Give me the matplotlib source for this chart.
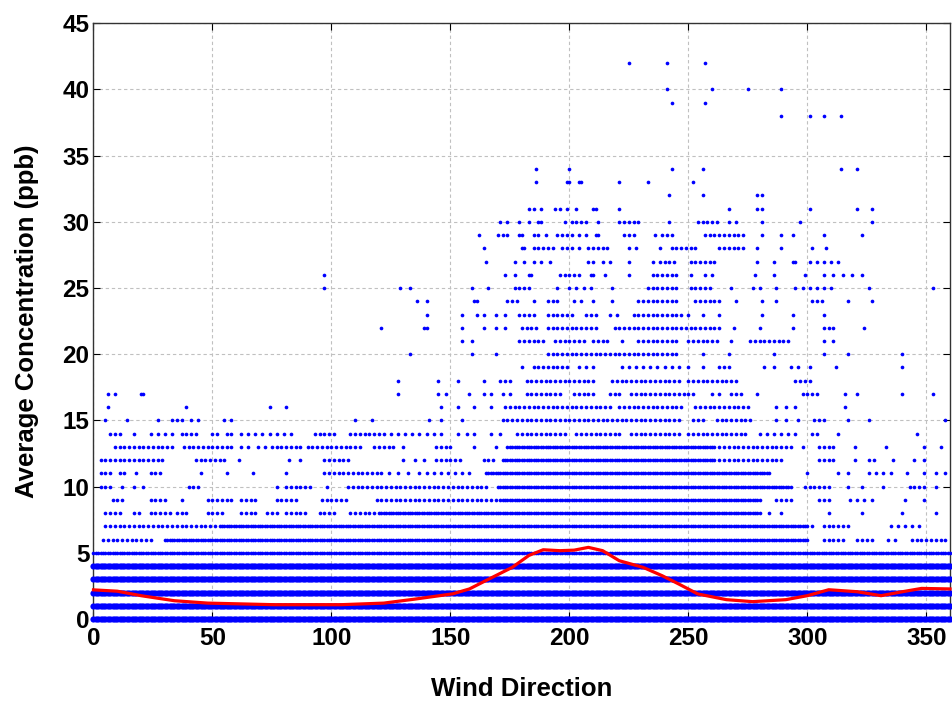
import numpy as np
import matplotlib.pyplot as plt

# wind direction runs per concentration level: int = single point, (a, b[, step]) = run
band_levels = [0, 1, 2, 3, 4]
full_run = [(0, 360)]

dirs_05 = [(0, 360)]
dirs_06 = [(4, 24, 2), (30, 300), (307, 315, 2), (321, 327, 2), 334, 337, (344, 358, 2)]
dirs_07 = [(5, 52, 2), (53, 300), 302, (307, 317, 2), (335, 348, 3)]
dirs_08 = [(5, 12, 2), (17, 19, 2), (24, 33, 2), (35, 40, 2), (48, 54, 2), (62, 69, 2),
           (73, 77, 2), (81, 90, 2), (95, 102, 2), (108, 119, 2), (120, 280), 284, 289,
           309, 323, 340, 354]
dirs_09 = [(8, 12, 2), (24, 31, 2), 37, (48, 58, 2), (62, 69, 2), (77, 86, 2), (96, 106, 2),
           (119, 123, 2), (125, 170, 2), (171, 280), (287, 293, 2), (305, 310, 2),
           (318, 327, 3), 341, 349]
dirs_10 = [(3, 8, 2), 12, 17, 21, (40, 45, 2), 77, (81, 92, 2), 98, (107, 123, 2),
           (125, 165, 2), (170, 293), (299, 310, 2), 317, 323, 332, (343, 349, 2), 354]
dirs_11 = [(3, 8, 2), (11, 13, 2), 18, (24, 29, 2), 45, 56, 67, 81, (97, 122, 2),
           (124, 135, 4), (137, 160, 3), (165, 284), 300, 313, 317, (326, 335, 3), 342,
           349, 354, 358]
dirs_12 = [(3, 29, 2), (43, 56, 2), 61, 82, 87, (97, 107, 2), 130, 135, 139, (144, 154, 2),
           (164, 168, 2), (172, 260), (261, 289, 2), (305, 311, 2), 320, (326, 328, 2), 336,
           345, 349]
dirs_13 = [(9, 33, 2), (38, 58, 2), 62, 65, 69, 72, (75, 87, 2), (90, 112, 2), (118, 127, 2),
           130, (144, 150, 2), 160, 169, (174, 260), (261, 293, 2), 298, (305, 311, 2), 320,
           333, 349, 356]
dirs_14 = [(7, 11, 2), 17, (24, 33, 3), (37, 44, 2), 50, 52, 56, 58, (62, 83, 3), (93, 102, 2),
           (108, 122, 2), (125, 143, 3), 146, 153, 157, 160, 167, 171, (178, 199, 2),
           (203, 221, 2), (226, 246, 2), (250, 275, 2), (280, 296, 3), 302, 304, 313, 346]
dirs_15 = [5, 14, 27, (33, 38, 2), 41, 44, 55, 58, 110, 117, 141, 146, 155, (172, 246, 2),
           (252, 257, 2), (262, 276, 2), 287, 291, 296, (303, 307, 2), 317, 326, 358]
dirs_16 = [6, 39, 74, 81, 146, 153, 160, 167, (173, 201, 2), (203, 218, 2), (221, 248, 2),
           (253, 275, 2), 287, 291, 295, 316]
dirs_17 = [6, 9, 20, 21, 128, 145, 148, 158, 164, 167, 172, 175, (182, 196, 2), (202, 210, 2),
           (217, 221, 2), (226, 253, 2), 260, 263, (268, 273, 2), 279, (298, 304, 2), 316,
           321, 340, 353]
dirs_18 = [128, 145, 153, 164, (171, 175, 2), (182, 211, 2), (218, 247, 2), (250, 271, 2),
           (295, 302, 2)]
dirs_19 = [180, (185, 199, 2), (204, 212, 3), (222, 247, 3), 250, 256, (263, 268, 2), 282,
           286, 293, 296, 301, 312, 340]
dirs_20 = [133, 159, 169, (191, 246, 2), 256, 267, 286, 307, 317, 340]
dirs_21 = [155, 159, (179, 189, 2), (194, 206, 2), (210, 217, 2), 222, (229, 245, 2),
           (250, 263, 2), 268, (276, 293, 2), 307, 311]
dirs_22 = [121, 139, 140, 155, 164, 169, 173, (180, 186, 2), (191, 201, 2), (203, 212, 2),
           (219, 263, 2), 269, 280, 294, (307, 312, 2), 324]
dirs_23 = [140, 155, 161, 164, 169, 173, (179, 186, 2), (191, 201, 2), (207, 211, 2), 217,
           220, (227, 247, 2), 250, 256, 263, 281, 294, 307]
dirs_24 = [136, 140, 160, 161, (174, 179, 2), 185, (191, 195, 2), 202, 205, 210, 218,
           (229, 245, 2), (253, 263, 2), 270, 281, 287, (302, 307, 2), 317, 327]
dirs_25 = [97, 129, 133, 159, 166, (177, 184, 2), 195, (200, 209, 3), 218, (233, 245, 2),
           (251, 260, 2), 268, 277, 280, 287, (295, 310, 3), 326, 353]
dirs_26 = [97, 173, 177, 183, 184, (196, 204, 2), 209, 210, 215, 225, (235, 245, 2), 251,
           257, 260, 278, 286, 299, (307, 323, 4)]
dirs_27 = [165, 177, 181, 185, 188, 192, 208, 210, 214, 217, 225, 235, (238, 244, 2),
           (251, 262, 2), 279, 286, 294, 295, (301, 314, 3)]
dirs_28 = [164, 180, 181, (185, 193, 2), (197, 201, 2), 204, (208, 217, 2), 225, 228, 238,
           (243, 254, 2), (263, 273, 2), 279, 289, 302, 308]
dirs_29 = [162, (170, 174, 2), 179, 180, 185, 187, 190, (195, 201, 2), 204, 207, 211, 212,
           (223, 228, 2), 236, (239, 243, 2), (257, 273, 2), 281, 289, 294, 307, 323]
dirs_30 = [171, 174, 179, 183, 187, 188, 198, (201, 207, 2), 212, (221, 230, 2), 242,
           (254, 262, 2), 267, 270, 281, 297, 327]
dirs_31 = [183, 185, 188, 194, 196, 199, 203, 210, 211, 221, 267, 279, 281, 301, 321, 327]
dirs_32 = [242, 256, 279, 281]
dirs_33 = [186, 199, 200, 204, 205, 221, 233, 252]
dirs_34 = [186, 200, 243, 256, 314, 321]
dirs_38 = [289, 301, 307, 314]
dirs_39 = [243, 257]
dirs_40 = [241, 260, 275, 289]
dirs_42 = [225, 241, 257]

sparse_levels = [(5, dirs_05), (6, dirs_06), (7, dirs_07), (8, dirs_08), (9, dirs_09),
                 (10, dirs_10), (11, dirs_11), (12, dirs_12), (13, dirs_13), (14, dirs_14),
                 (15, dirs_15), (16, dirs_16), (17, dirs_17), (18, dirs_18), (19, dirs_19),
                 (20, dirs_20), (21, dirs_21), (22, dirs_22), (23, dirs_23), (24, dirs_24),
                 (25, dirs_25), (26, dirs_26), (27, dirs_27), (28, dirs_28), (29, dirs_29),
                 (30, dirs_30), (31, dirs_31), (32, dirs_32), (33, dirs_33), (34, dirs_34),
                 (38, dirs_38), (39, dirs_39), (40, dirs_40), (42, dirs_42)]

# red average curve
curve_dir = [0, 10, 20, 34, 48, 76, 104, 122, 135, 151, 158, 166, 176, 183, 189, 196, 202,
             208, 214, 221, 231, 239, 246, 254, 266, 277, 291, 300, 309, 321, 331, 340, 348,
             360]
curve_conc = [2.2, 2.1, 1.76, 1.38, 1.2, 1.08, 1.08, 1.2, 1.5, 1.9, 2.27, 3.0, 3.9, 4.8,
              5.23, 5.16, 5.2, 5.41, 5.16, 4.4, 3.9, 3.27, 2.64, 1.89, 1.46, 1.31, 1.46, 1.76,
              2.21, 2.06, 1.76, 2.06, 2.31, 2.27]


def expand(runs):
    out = []
    for r in runs:
        if isinstance(r, tuple):
            step = r[2] if len(r) > 2 else 1
            out.extend(range(r[0], r[1] + 1, step))
        else:
            out.append(r)
    return out


bx, by = [], []
for lev in band_levels:
    d = expand(full_run)
    bx += d
    by += [lev] * len(d)
xs, ys = [], []
for lev, runs in sparse_levels:
    d = expand(runs)
    xs += d
    ys += [lev] * len(d)

plt.rcParams['font.family'] = ['Liberation Sans', 'DejaVu Sans']
plt.rcParams['font.weight'] = 'bold'

fig = plt.figure(figsize=(9.53, 7.03), dpi=100)
ax = fig.add_axes([0.0981, 0.1195, 0.8988, 0.8474])

ax.scatter(bx, by, s=20, c='#0000ff', marker='o', linewidths=0, clip_on=False, zorder=3)
ax.scatter(xs, ys, s=7, c='#0000ff', marker='o', linewidths=0, clip_on=False, zorder=3)
ax.plot(curve_dir, curve_conc, color='#ff0000', lw=2.3, zorder=4, clip_on=False)

ax.set_xlim(0, 360)
ax.set_ylim(0, 45)
ax.set_xticks(np.arange(0, 351, 50))
ax.set_yticks(np.arange(0, 46, 5))
ax.grid(True, color='#c0c0c0', linestyle=(0, (3, 2.5)), linewidth=0.8, zorder=0)
ax.set_axisbelow(True)
ax.tick_params(direction='in', length=5, width=0.8, top=True, right=True,
               labelsize=17.5, pad=6)
ax.tick_params(axis='y', pad=3)
for s in ax.spines.values():
    s.set_color('#333333')
    s.set_linewidth(1.0)

ax.set_xlabel('Wind Direction', fontsize=18.5, fontweight='bold', labelpad=19)
ax.set_ylabel('Average Concentration (ppb)', fontsize=18.5, fontweight='bold', labelpad=17)

fig.savefig('out.png', dpi=100)
